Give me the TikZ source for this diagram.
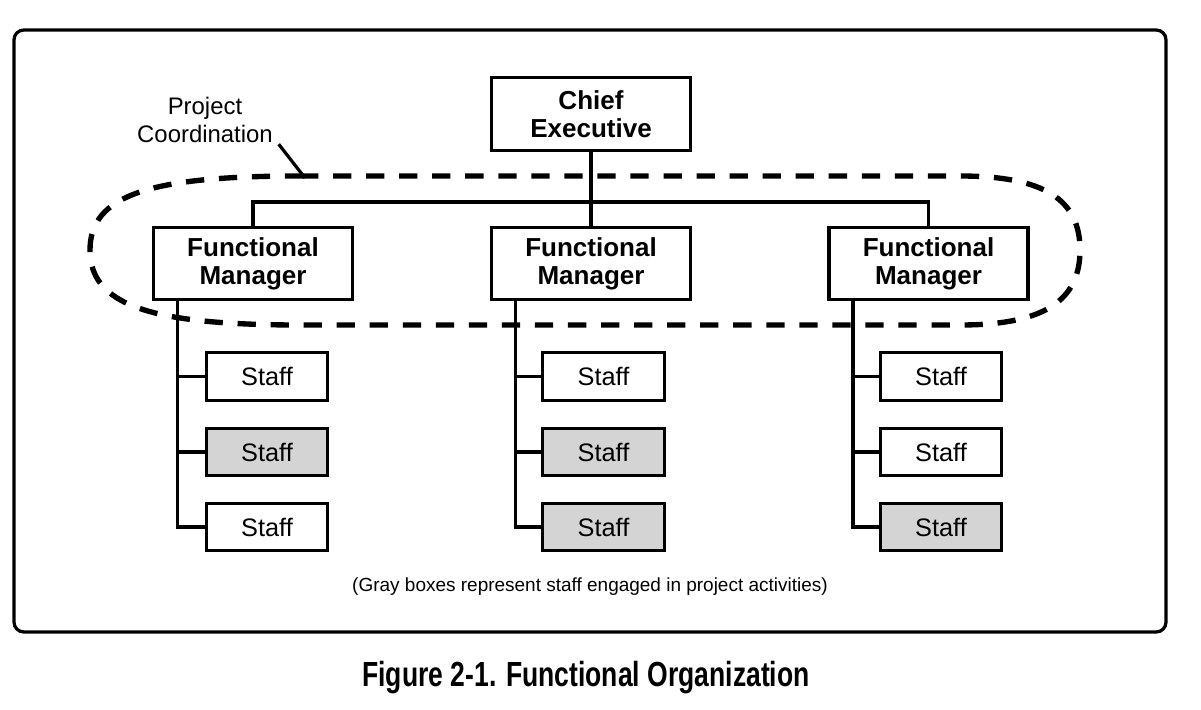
\documentclass[tikz,border=0pt]{standalone}
\usepackage{fontspec}
\setmainfont{Liberation Sans}
\newfontfamily\capfont{Liberation Sans}[FakeStretch=0.76]
\usepackage{tikz}

\tikzset{
  boss/.style={draw, line width=2.2pt, inner sep=0pt, minimum width=4.975cm,
    minimum height=1.82cm, align=center,
    font=\fontsize{18.5}{20}\selectfont\bfseries},
  staffbox/.style={draw, line width=2.2pt, inner sep=0pt, minimum width=3.03cm,
    minimum height=1.18cm, font=\fontsize{18}{20}\selectfont},
  busy/.style={staffbox, fill=black!17},
  wire/.style={line width=2.3pt},
}

\begin{document}
\begin{tikzpicture}[x=0.025cm,y=-0.025cm]
\useasboundingbox (0,0) rectangle (1201,709);
\draw [line width=2.3pt, rounded corners=7pt] (14,30) rectangle (1166,632);

% the chief and the managers
\node [boss] (chief) at (591,114) {Chief\\Executive};
\node [boss] (fm1) at (253,263.5) {\strut Functional\\Manager};
\node [boss] (fm2) at (591,263.5) {\strut Functional\\Manager};
\node [boss] (fm3) at (928.5,263.5) {\strut Functional\\Manager};
\coordinate (bus) at (591,202);
\draw [wire] (chief.south) -- (fm2.north);
\draw [wire] (fm1.north) |- (bus) -| (fm3.north);

% project coordination loop
\draw [line width=3.8pt, dash pattern=on 13pt off 10.5pt]
  (300,176) -- (960,176) .. controls (1045,176) and (1080,200) .. (1080,250)
  .. controls (1080,300) and (1045,325) .. (960,325) -- (300,325)
  .. controls (150,325) and (90,305) .. (90,250)
  .. controls (90,195) and (150,176) .. (300,176);
\node [align=center, font=\fontsize{17}{19.5}\selectfont, inner sep=2pt]
  (pc) at (205,120) {Project\\Coordination};
\coordinate (pcend) at (305,178);
\draw [wire] ([xshift=2pt,yshift=1pt]pc.south east) -- (pcend);

% staff under each manager
\node [staffbox] (s11) at (267,376.5) {Staff};
\node [busy] (s12) at (267,452) {Staff};
\node [staffbox] (s13) at (267,527) {Staff};
\node [staffbox] (s21) at (603.5,376.5) {Staff};
\node [busy] (s22) at (603.5,452) {Staff};
\node [busy] (s23) at (603.5,527) {Staff};
\node [staffbox] (s31) at (941,376.5) {Staff};
\node [staffbox] (s32) at (941,452) {Staff};
\node [busy] (s33) at (941,527) {Staff};

\coordinate (sp1) at ([xshift=0.64cm]fm1.south west);
\coordinate (sp2) at ([xshift=0.64cm]fm2.south west);
\coordinate (sp3) at ([xshift=0.64cm]fm3.south west);
\draw [wire] (sp1) |- (s13.west);
\draw [wire] (sp1 |- s11.west) -- (s11.west);
\draw [wire] (sp1 |- s12.west) -- (s12.west);
\draw [wire] (sp2) |- (s23.west);
\draw [wire] (sp2 |- s21.west) -- (s21.west);
\draw [wire] (sp2 |- s22.west) -- (s22.west);
\draw [wire] (sp3) |- (s33.west);
\draw [wire] (sp3 |- s31.west) -- (s31.west);
\draw [wire] (sp3 |- s32.west) -- (s32.west);

\node [font=\fontsize{13.5}{16}\selectfont] (note) at (590,587)
  {(Gray boxes represent staff engaged in project activities)};
\node [font=\capfont\bfseries\fontsize{24.8}{28}\selectfont] (cap) at (586,678)
  {Figure 2-1. Functional Organization};
\end{tikzpicture}
\end{document}
